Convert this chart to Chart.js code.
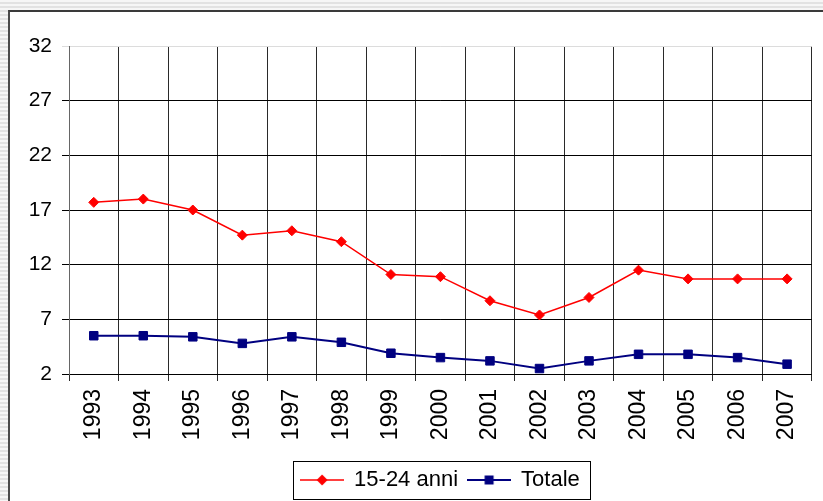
<!DOCTYPE html>
<html>
<head>
<meta charset="utf-8">
<script src="https://cdn.jsdelivr.net/npm/chart.js@4"></script>
<style>
  html, body {
    margin: 0;
    padding: 0;
    width: 823px;
    height: 501px;
    overflow: hidden;
    background: repeating-linear-gradient(to bottom, #f6f6f6 0px, #f6f6f6 2px, #e2e2e2 2px, #e2e2e2 4px);
  }
  #frame {
    position: absolute;
    left: 8px;
    top: 10px;
    width: 815px;
    height: 491px;
    background: #fff;
    border-left: 2px solid #4a4a4a;
    border-top: 2px solid #3a3a3a;
  }
  #wrap {
    position: absolute;
    left: 0;
    top: 0;
    width: 823px;
    height: 501px;
  }
</style>
</head>
<body>
<div id="frame"></div>
<div id="wrap"><canvas id="chart"></canvas></div>
<script>
const years = ["1993", "1994", "1995", "1996", "1997", "1998", "1999", "2000",
  "2001", "2002", "2003", "2004", "2005", "2006", "2007"];
const giovani = [17.7, 18.0, 17.0, 14.7, 15.1, 14.1, 11.1, 10.9, 8.7, 7.4, 9.0, 11.5, 10.7, 10.7, 10.7];
const totale = [5.5, 5.5, 5.4, 4.8, 5.4, 4.9, 3.9, 3.5, 3.2, 2.5, 3.2, 3.8, 3.8, 3.5, 2.9];
const yTicks = [2, 7, 12, 17, 22, 27, 32];

Chart.defaults.font.family = "'Liberation Sans', Arial, sans-serif";
Chart.defaults.color = "#000";

// small line + marker pictures for the legend, Excel style
function legendSymbol(color, shape, lineWidth) {
  const c = document.createElement("canvas");
  c.width = 44;
  c.height = 14;
  const g = c.getContext("2d");
  g.strokeStyle = color;
  g.fillStyle = color;
  g.lineWidth = lineWidth;
  g.beginPath();
  g.moveTo(0, 7);
  g.lineTo(44, 7);
  g.stroke();
  g.beginPath();
  if (shape === "diamond") {
    g.moveTo(22, 1.5);
    g.lineTo(27.5, 7);
    g.lineTo(22, 12.5);
    g.lineTo(16.5, 7);
    g.closePath();
  } else {
    g.rect(17.5, 2.5, 9, 9);
  }
  g.fill();
  return c;
}

const redSymbol = legendSymbol("#ff0000", "diamond", 1.5);
const blueSymbol = legendSymbol("#000080", "square", 2);

// legend centred under the plot area (not the canvas), with a box round it
const legendBox = {
  id: "legendBox",
  afterLayout(chart) {
    const lg = chart.legend;
    if (!lg) return;
    const shift = (chart.chartArea.left + chart.chartArea.right) / 2 - (lg.left + lg.right) / 2;
    lg.left += shift;
    lg.right += shift;
  },
  afterDraw(chart) {
    const boxes = chart.legend && chart.legend.legendHitBoxes;
    if (!boxes || !boxes.length) return;
    const first = boxes[0];
    const last = boxes[boxes.length - 1];
    const cy = first.top + first.height / 2;
    const ctx = chart.ctx;
    ctx.save();
    ctx.strokeStyle = "#000";
    ctx.lineWidth = 1;
    ctx.strokeRect(Math.round(first.left - 8) + 0.5, Math.round(cy - 19) + 0.5,
      Math.round(last.left + last.width - first.left + 18), 38);
    ctx.restore();
  }
};

const ctx = document.getElementById("chart").getContext("2d");
new Chart(ctx, {
  type: "line",
  data: {
    labels: years,
    datasets: [
      {
        label: "15-24 anni",
        data: giovani,
        borderColor: "#ff0000",
        backgroundColor: "#ff0000",
        borderWidth: 1.5,
        pointStyle: "rectRot",
        pointRadius: 5,
        pointBorderWidth: 1,
        tension: 0,
        fill: false
      },
      {
        label: "Totale",
        data: totale,
        borderColor: "#000080",
        backgroundColor: "#000080",
        borderWidth: 2,
        pointStyle: "rect",
        pointRadius: 6,
        pointBorderWidth: 1,
        tension: 0,
        fill: false
      }
    ]
  },
  options: {
    responsive: true,
    maintainAspectRatio: false,
    animation: false,
    layout: {
      padding: { top: 46, right: 9, left: 0, bottom: 0 }
    },
    plugins: {
      title: { display: false },
      tooltip: { enabled: false },
      legend: {
        display: true,
        position: "bottom",
        labels: {
          usePointStyle: true,
          pointStyleWidth: 42,
          padding: 10,
          color: "#000",
          font: { size: 22 },
          generateLabels: () => [
            { text: "15-24 anni", pointStyle: redSymbol, fillStyle: "#ff0000", strokeStyle: "#ff0000", lineWidth: 0, fontColor: "#000", datasetIndex: 0 },
            { text: "Totale", pointStyle: blueSymbol, fillStyle: "#000080", strokeStyle: "#000080", lineWidth: 0, fontColor: "#000", datasetIndex: 1 }
          ]
        }
      }
    },
    scales: {
      x: {
        offset: true,
        afterFit: (scale) => { scale.height = 85; },
        grid: {
          offset: true,
          color: "#2a2a2a",
          lineWidth: 1,
          tickLength: 7
        },
        border: { color: "#000", width: 1 },
        ticks: {
          autoSkip: false,
          minRotation: 90,
          maxRotation: 90,
          padding: 8,
          color: "#000",
          font: { size: 23 }
        }
      },
      y: {
        min: 2,
        max: 32,
        afterFit: (scale) => { scale.width = 69; },
        afterBuildTicks: (scale) => {
          scale.ticks = yTicks.map((v) => ({ value: v }));
        },
        grid: {
          color: (c) => (c.tick && c.tick.value === 32 ? "#dcdcdc" : "#000"),
          lineWidth: 1,
          tickLength: 7
        },
        border: { color: "#666", width: 1 },
        ticks: {
          padding: 10,
          color: "#000",
          font: { size: 21 }
        }
      }
    }
  },
  plugins: [legendBox]
});
</script>
</body>
</html>
